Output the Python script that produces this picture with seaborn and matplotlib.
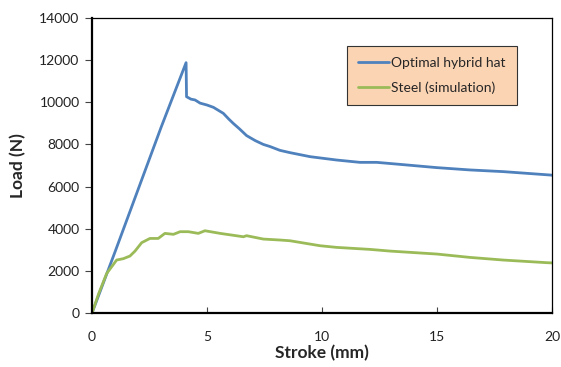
import matplotlib
matplotlib.use("Agg")
import matplotlib.pyplot as plt
import seaborn as sns
import pandas as pd

series_names = ["Optimal hybrid hat", "Steel (simulation)"]

hybrid_x = [0.0, 0.5, 1.0, 2.0, 3.0, 4.09, 4.11, 4.3, 4.48, 4.70, 5.0, 5.28, 5.71, 5.95,
            6.14, 6.4, 6.72, 7.1, 7.45, 7.74, 8.17, 8.61, 9.48, 10.64, 11.65, 12.38, 13.54,
            14.99, 16.43, 17.88, 19.91, 20.0]
hybrid_y = [0, 1450, 2900, 5850, 8800, 11880, 10265, 10150, 10110, 9960, 9870, 9760,
            9475, 9200, 9000, 8750, 8420, 8180, 8000, 7900, 7720, 7610, 7420, 7260, 7150,
            7150, 7040, 6900, 6790, 6710, 6550, 6540]

steel_x = [0.0, 0.3, 0.64, 1.07, 1.36, 1.65, 1.87, 2.16, 2.52, 2.88, 3.17, 3.54, 3.83,
           4.19, 4.62, 4.91, 5.57, 6.58, 6.72, 7.45, 8.17, 8.61, 9.91, 10.64, 12.09,
           12.96, 14.99, 16.43, 17.88, 19.77, 20.0]
steel_y = [0, 950, 1880, 2515, 2580, 2705, 2940, 3340, 3540, 3540, 3780, 3735, 3860,
           3860, 3780, 3905, 3780, 3620, 3670, 3510, 3465, 3430, 3195, 3115, 3020,
           2940, 2800, 2640, 2515, 2390, 2380]

x_ticks = [0, 5, 10, 15, 20]
y_ticks = [0, 2000, 4000, 6000, 8000, 10000, 12000, 14000]

df = pd.concat([
    pd.DataFrame({"Stroke": hybrid_x, "Load": hybrid_y, "Series": series_names[0]}),
    pd.DataFrame({"Stroke": steel_x, "Load": steel_y, "Series": series_names[1]}),
], ignore_index=True)

sns.set_theme(style="white")
plt.rcParams["font.family"] = ["Lato", "DejaVu Sans"]

fig = plt.figure(figsize=(5.61, 3.67), dpi=100)
ax = fig.add_axes([0.164, 0.147, 0.820, 0.804])

sns.lineplot(data=df, x="Stroke", y="Load", hue="Series", sort=False,
             palette=["#4F81BD", "#9BBB59"], linewidth=2.0, ax=ax, estimator=None)

ax.set_xlim(0, 20)
ax.set_ylim(0, 14000)
ax.set_xticks(x_ticks)
ax.set_yticks(y_ticks)
ax.set_xticklabels([str(v) for v in x_ticks], fontsize=10, color="#222222")
ax.set_yticklabels([str(v) for v in y_ticks], fontsize=10, color="#222222")
ax.tick_params(axis="x", direction="in", length=4, width=0.8, color="#444444", pad=13)
ax.tick_params(axis="y", direction="out", length=5, width=0.8, color="#444444", pad=4)
ax.tick_params(left=True, bottom=True)

for side in ["left", "bottom"]:
    ax.spines[side].set_linewidth(1.6)
    ax.spines[side].set_color("black")
for side in ["top", "right"]:
    ax.spines[side].set_linewidth(0.9)
    ax.spines[side].set_color("black")

ax.set_xlabel("Stroke (mm)", fontsize=12.5, fontweight="bold", labelpad=1)
ax.set_ylabel("Load (N)", fontsize=12.5, fontweight="bold", labelpad=9)

leg = ax.legend(loc="upper left", bbox_to_anchor=(347 / 561, 1 - 46 / 367),
                bbox_transform=fig.transFigure, borderaxespad=0, frameon=True,
                fancybox=False, facecolor="#FBD4B4", edgecolor="#333333",
                fontsize=10, handlelength=2.2, handletextpad=0.2,
                borderpad=0.8, labelspacing=0.9, title=None)
leg.get_frame().set_linewidth(0.8)
leg.get_frame().set_alpha(1)

fig.savefig("out.png", dpi=100)
